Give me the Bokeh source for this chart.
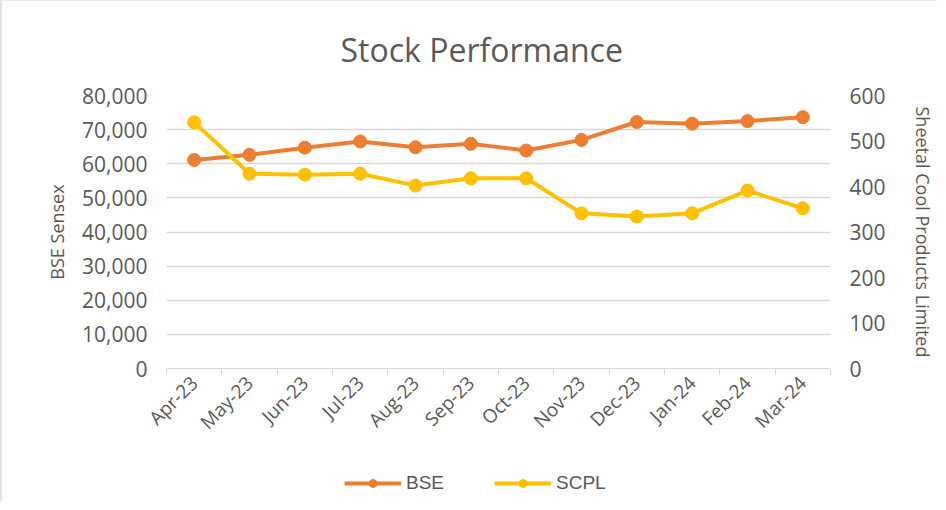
from bokeh.plotting import figure
from bokeh.layouts import column
from bokeh.models import (Range1d, LinearAxis, FixedTicker, NumeralTickFormatter,
                          Legend, LegendItem, Title)
from bokeh.embed import file_html
from bokeh.resources import INLINE
import math

months = ["Apr-23", "May-23", "Jun-23", "Jul-23", "Aug-23", "Sep-23",
          "Oct-23", "Nov-23", "Dec-23", "Jan-24", "Feb-24", "Mar-24"]
bse = [61112, 62622, 64718, 66527, 64831, 65828, 63874, 66988, 72240, 71752, 72500, 73651]
scpl = [541, 428, 426, 428, 402, 418, 418, 341, 334, 341, 391, 352]
left_ticks = [0, 10000, 20000, 30000, 40000, 50000, 60000, 70000, 80000]
right_ticks = [0, 100, 200, 300, 400, 500, 600]

xs = list(range(len(months)))

ORANGE = "#ED7D31"
GOLD = "#FFC000"
TXT = "#595959"
GRID = "#d9d9d9"
FONT = "Open Sans"

p = figure(width=937, height=449, output_backend="svg", toolbar_location=None,
           x_range=Range1d(-0.5, len(months) - 0.5), y_range=Range1d(0, 80000),
           min_border_left=164, min_border_right=109, min_border_top=94,
           min_border_bottom=82, background_fill_color="white",
           border_fill_color="white")
p.outline_line_color = None
p.styles = {"border-left": "2px solid #e2e2e2", "border-top": "1px solid #ececec"}

p.extra_y_ranges = {"scpl": Range1d(0, 600)}

# title
t = Title(text="Stock Performance", align="left", offset=174, standoff=49,
          text_font=FONT, text_font_size="32px", text_font_style="normal",
          text_color=TXT)
p.add_layout(t, "above")

# x axis
xa = p.xaxis[0]
xa.ticker = FixedTicker(ticks=xs, minor_ticks=[i - 0.5 for i in range(len(months) + 1)])
xa.major_label_overrides = {i: m for i, m in enumerate(months)}
xa.major_tick_line_color = None
xa.minor_tick_line_color = GRID
xa.minor_tick_out = 6
xa.minor_tick_in = 0
xa.axis_line_color = GRID
xa.major_label_orientation = math.pi / 4
xa.major_label_text_font = FONT
xa.major_label_text_font_size = "19px"
xa.major_label_text_color = TXT
xa.major_label_standoff = 5

# left axis
ya = p.yaxis[0]
ya.ticker = FixedTicker(ticks=left_ticks)
ya.formatter = NumeralTickFormatter(format="0,0")
ya.axis_line_color = None
ya.major_tick_line_color = None
ya.minor_tick_line_color = None
ya.major_label_text_font = FONT
ya.major_label_text_font_size = "21px"
ya.major_label_text_color = TXT
ya.major_label_standoff = 13
ya.axis_label = "BSE Sensex"
ya.axis_label_text_font = FONT
ya.axis_label_text_font_size = "18px"
ya.axis_label_text_font_style = "normal"
ya.axis_label_text_color = TXT
ya.axis_label_standoff = 10

# right axis
ra = LinearAxis(y_range_name="scpl", ticker=FixedTicker(ticks=right_ticks))
ra.axis_line_color = None
ra.major_tick_line_color = None
ra.minor_tick_line_color = None
ra.major_label_text_font = FONT
ra.major_label_text_font_size = "21px"
ra.major_label_text_color = TXT
ra.major_label_standoff = 13
ra.axis_label = "Sheetal Cool Products Limited"
ra.axis_label_text_font = FONT
ra.axis_label_text_font_size = "18px"
ra.axis_label_text_font_style = "normal"
ra.axis_label_text_color = TXT
ra.axis_label_standoff = 22
p.add_layout(ra, "right")

p.xgrid.grid_line_color = None
p.ygrid.ticker = FixedTicker(ticks=left_ticks)
p.ygrid.grid_line_color = GRID
p.ygrid.grid_line_width = 1.5

# series
p.line(xs, bse, line_color=ORANGE, line_width=4)
p.scatter(xs, bse, size=13, fill_color=ORANGE, line_color=ORANGE)
p.line(xs, scpl, line_color=GOLD, line_width=4, y_range_name="scpl")
p.scatter(xs, scpl, size=13, fill_color=GOLD, line_color=GOLD, y_range_name="scpl")

# legend strip below the chart
lg = figure(width=937, height=52, output_backend="svg", toolbar_location=None,
            x_range=Range1d(0, 1), y_range=Range1d(0, 1), min_border=0,
            background_fill_color="white", border_fill_color="white")
lg.outline_line_color = None
lg.axis.visible = False
lg.grid.visible = False
lg.styles = {"border-left": "2px solid #e2e2e2"}
k1 = lg.line(xs, bse, line_color=ORANGE, line_width=4, visible=False)
k2 = lg.scatter(xs, bse, size=12, fill_color=ORANGE, line_color=ORANGE, visible=False)
k3 = lg.line(xs, scpl, line_color=GOLD, line_width=4, visible=False)
k4 = lg.scatter(xs, scpl, size=12, fill_color=GOLD, line_color=GOLD, visible=False)

legend = Legend(items=[LegendItem(label="BSE", renderers=[k1, k2]),
                       LegendItem(label="SCPL", renderers=[k3, k4])],
                orientation="horizontal", location=(178, 7),
                glyph_width=57, glyph_height=20, label_width=88, spacing=0,
                label_standoff=5, padding=0, margin=0,
                border_line_color=None, background_fill_alpha=0,
                inactive_fill_alpha=0,
                label_text_font="Liberation Sans", label_text_font_size="19px",
                label_text_color=TXT)
lg.add_layout(legend, "center")

open("out.html", "w").write(file_html(column(p, lg, spacing=0), INLINE))
